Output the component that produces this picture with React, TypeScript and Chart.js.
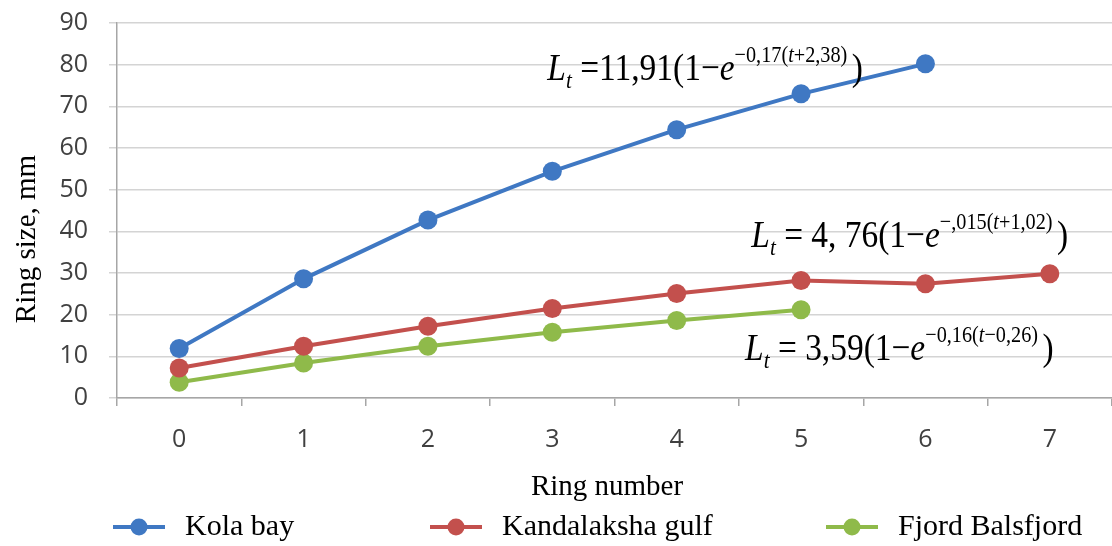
import { useEffect, useRef } from 'react';
import { Chart, registerables } from 'chart.js';

Chart.register(...registerables);

const categories = ['0', '1', '2', '3', '4', '5', '6', '7'];
const kolaBay = [11.9, 28.6, 42.7, 54.4, 64.4, 73.0, 80.2, null];
const kandalaksha = [7.2, 12.4, 17.2, 21.5, 25.1, 28.2, 27.4, 29.8];
const balsfjord = [3.8, 8.4, 12.4, 15.8, 18.6, 21.2, null, null];
const seriesNames = ['Kola bay', 'Kandalaksha gulf', 'Fjord Balsfjord'];
const seriesColors = ['#3f78c3', '#c3504d', '#8fba4a'];
const yMin = 0;
const yMax = 90;
const yStep = 10;
const xTitle = 'Ring number';
const yTitle = 'Ring size, mm';

type Part = { t: string; italic?: boolean; sub?: boolean; sup?: boolean };
const formula1: Part[] = [
  { t: 'L', italic: true }, { t: 't', italic: true, sub: true }, { t: ' =11,91(1−' },
  { t: 'e', italic: true }, { t: '−0,17(', sup: true }, { t: 't', italic: true, sup: true },
  { t: '+2,38)', sup: true }, { t: ')' },
];
const formula2: Part[] = [
  { t: 'L', italic: true }, { t: 't', italic: true, sub: true }, { t: ' = 4, 76(1−' },
  { t: 'e', italic: true }, { t: '−,015(', sup: true }, { t: 't', italic: true, sup: true },
  { t: '+1,02)', sup: true }, { t: ')' },
];
const formula3: Part[] = [
  { t: 'L', italic: true }, { t: 't', italic: true, sub: true }, { t: ' = 3,59(1−' },
  { t: 'e', italic: true }, { t: '−0,16(', sup: true }, { t: 't', italic: true, sup: true },
  { t: '−0,26)', sup: true }, { t: ')' },
];
// anchored at (category index, y value) of the formula's left edge / baseline
const formulas = [
  { parts: formula1, x: 2.96, y: 76.3 },
  { parts: formula2, x: 4.6, y: 36.2 },
  { parts: formula3, x: 4.55, y: 9.1 },
];

const SERIF = '"Liberation Serif", "Times New Roman", serif';
const SANS = '"Open Sans", "Liberation Sans", sans-serif';

const formulaPlugin = {
  id: 'formulas',
  afterDatasetsDraw(chart: any) {
    const ctx = chart.ctx;
    const xs = chart.scales.x;
    const ys = chart.scales.y;
    const sx = 0.88;
    ctx.save();
    ctx.fillStyle = '#000';
    ctx.textBaseline = 'alphabetic';
    ctx.textAlign = 'left';
    for (const f of formulas) {
      const x0 = xs.getPixelForValue(f.x);
      const base = ys.getPixelForValue(f.y);
      ctx.save();
      ctx.translate(x0, base);
      ctx.scale(sx, 1);
      let x = 0;
      for (const p of f.parts) {
        const size = p.sub ? 24 : p.sup ? 23 : 38;
        const dy = p.sub ? 8 : p.sup ? -18 : 0;
        ctx.font = `${p.italic ? 'italic ' : ''}${size}px ${SERIF}`;
        ctx.fillText(p.t, x, dy);
        x += ctx.measureText(p.t).width + (p.sup && p.t.endsWith(')') ? 5 : 0);
      }
      ctx.restore();
    }
    ctx.restore();
  },
};

const titlesLegendPlugin = {
  id: 'titlesLegend',
  afterDraw(chart: any) {
    const ctx = chart.ctx;
    ctx.save();
    ctx.fillStyle = '#000';
    ctx.font = `29px ${SERIF}`;
    ctx.textAlign = 'center';
    ctx.textBaseline = 'middle';
    ctx.fillText(xTitle, 607, 487);
    ctx.save();
    ctx.translate(27, 239);
    ctx.rotate(-Math.PI / 2);
    ctx.font = `29px ${SERIF}`;
    ctx.fillText(yTitle, 0, 0);
    ctx.restore();
    const starts = [113, 430, 826];
    const y = 527;
    seriesNames.forEach((name, i) => {
      const x0 = starts[i];
      ctx.strokeStyle = seriesColors[i];
      ctx.lineWidth = 4;
      ctx.beginPath();
      ctx.moveTo(x0, y);
      ctx.lineTo(x0 + 52, y);
      ctx.stroke();
      ctx.fillStyle = seriesColors[i];
      ctx.beginPath();
      ctx.arc(x0 + 26, y, 8.5, 0, Math.PI * 2);
      ctx.fill();
      ctx.fillStyle = '#000';
      ctx.font = `30px ${SERIF}`;
      ctx.textBaseline = 'middle';
      ctx.textAlign = 'left';
      ctx.fillText(name, x0 + 72, y);
    });
    ctx.restore();
  },
};

export default function App() {
  const ref = useRef<HTMLCanvasElement>(null);
  useEffect(() => {
    document.body.style.margin = '0';
    const seriesData = [kolaBay, kandalaksha, balsfjord];
    const chart = new Chart(ref.current as HTMLCanvasElement, {
      type: 'line',
      data: {
        labels: categories,
        datasets: seriesData.map((d, i) => ({
          label: seriesNames[i],
          data: d,
          borderColor: seriesColors[i],
          backgroundColor: seriesColors[i],
          borderWidth: 4,
          pointRadius: 9.5,
          pointHoverRadius: 9.5,
          pointBorderWidth: 0,
          tension: 0,
          spanGaps: false,
          clip: false,
        })),
      },
      options: {
        responsive: false,
        animation: false,
        layout: { autoPadding: false, padding: { left: 0, right: 0, top: 23, bottom: 40 } },
        plugins: { legend: { display: false }, tooltip: { enabled: false } },
        scales: {
          x: {
            offset: true,
            grid: {
              display: true,
              offset: true,
              drawOnChartArea: false,
              drawTicks: true,
              tickLength: 8,
              color: '#a6a6a6',
              lineWidth: 1.5,
            },
            border: { display: true, color: '#a6a6a6', width: 1.5 },
            ticks: { color: '#404040', font: { family: SANS, size: 25 }, padding: 19 },
            afterFit: (s: any) => {
              s.height = 546 - 40 - 398;
              s.paddingLeft = 0;
              s.paddingRight = 0;
            },
          },
          y: {
            min: yMin,
            max: yMax,
            ticks: { stepSize: yStep, color: '#404040', font: { family: SANS, size: 25 }, padding: 21 },
            grid: { color: '#d4d4d4', lineWidth: 1.5, tickLength: 8, drawTicks: true },
            border: { display: true, color: '#a6a6a6', width: 1.5 },
            afterFit: (s: any) => {
              s.width = 117;
              s.paddingTop = 0;
              s.paddingBottom = 0;
            },
          },
        },
      },
      plugins: [formulaPlugin, titlesLegendPlugin],
    });
    return () => chart.destroy();
  }, []);
  return (
    <div style={{ width: 1112, height: 546, background: '#fff' }}>
      <canvas ref={ref} width={1112} height={546} style={{ display: 'block' }} />
    </div>
  );
}
